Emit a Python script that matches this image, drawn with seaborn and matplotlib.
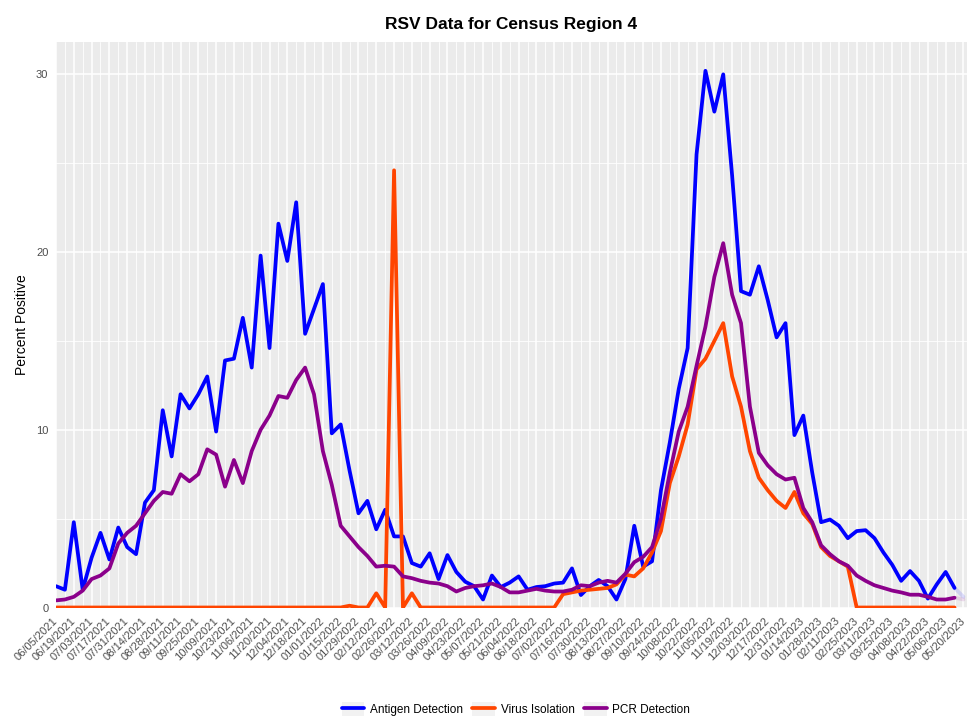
import numpy as np
import pandas as pd
import matplotlib
matplotlib.use("Agg")
import matplotlib.pyplot as plt
import matplotlib.dates as mdates
from matplotlib.lines import Line2D
from matplotlib.patches import Patch
from matplotlib.legend_handler import HandlerTuple
import seaborn as sns

# ---------------- data (weekly, 06/05/2021 .. 05/20/2023) ----------------
weeks = pd.date_range("2021-06-05", periods=103, freq="7D")

antigen = [1.2, 1.0, 4.8, 1.0, 2.8, 4.2, 2.7, 4.5, 3.4, 3.0,
           5.9, 6.6, 11.1, 8.5, 12.0, 11.2, 12.0, 13.0, 9.9, 13.9,
           14.0, 16.3, 13.5, 19.8, 14.6, 21.6, 19.5, 22.8, 15.4, 16.8,
           18.2, 9.8, 10.3, 7.7, 5.3, 6.0, 4.4, 5.5, 4.0, 4.0,
           2.5, 2.3, 3.05, 1.6, 2.95, 2.0, 1.45, 1.2, 0.45, 1.8,
           1.15, 1.4, 1.75, 1.0, 1.15, 1.2, 1.35, 1.4, 2.2, 0.7,
           1.2, 1.55, 1.2, 0.45, 1.6, 4.6, 2.3, 2.6, 6.6, 9.3,
           12.3, 14.6, 25.5, 30.2, 27.9, 30.0, 24.3, 17.8, 17.6, 19.2,
           17.3, 15.2, 16.0, 9.7, 10.8, 7.6, 4.8, 4.95, 4.6, 3.9,
           4.3, 4.35, 3.9, 3.1, 2.4, 1.5, 2.05, 1.5, 0.5, 1.3,
           2.0, 1.1, 0.6]

virus = [0, 0, 0, 0, 0, 0, 0, 0, 0, 0,
         0, 0, 0, 0, 0, 0, 0, 0, 0, 0,
         0, 0, 0, 0, 0, 0, 0, 0, 0, 0,
         0, 0, 0, 0.1, 0, 0, 0.8, 0, 24.6, 0,
         0.8, 0, 0, 0, 0, 0, 0, 0, 0, 0,
         0, 0, 0, 0, 0, 0, 0, 0.75, 0.85, 0.95,
         1.0, 1.05, 1.1, 1.3, 1.85, 1.75, 2.2, 3.1, 4.3, 7.0,
         8.5, 10.3, 13.4, 14.0, 15.0, 16.0, 13.0, 11.3, 8.8, 7.3,
         6.6, 6.0, 5.6, 6.5, 5.3, 4.7, 3.4, 2.9, 2.6, 2.3,
         0, 0, 0, 0, 0, 0, 0, 0, 0, 0,
         0, 0, np.nan]

pcr = [0.4, 0.45, 0.6, 0.95, 1.6, 1.8, 2.2, 3.6, 4.2, 4.6,
       5.3, 6.0, 6.5, 6.4, 7.5, 7.1, 7.5, 8.9, 8.6, 6.8,
       8.3, 7.0, 8.8, 10.0, 10.8, 11.9, 11.8, 12.8, 13.5, 12.0,
       8.8, 6.9, 4.6, 4.0, 3.4, 2.9, 2.3, 2.35, 2.3, 1.75,
       1.65, 1.5, 1.4, 1.35, 1.2, 0.9, 1.1, 1.2, 1.25, 1.35,
       1.15, 0.85, 0.85, 0.95, 1.05, 0.95, 0.9, 0.9, 1.0, 1.25,
       1.2, 1.4, 1.5, 1.4, 1.9, 2.55, 2.85, 3.4, 5.0, 7.6,
       9.9, 11.3, 13.6, 15.8, 18.6, 20.5, 17.6, 16.0, 11.3, 8.7,
       8.0, 7.5, 7.2, 7.3, 5.6, 4.8, 3.5, 3.0, 2.6, 2.35,
       1.8, 1.5, 1.25, 1.1, 0.95, 0.85, 0.72, 0.72, 0.6, 0.45,
       0.45, 0.55, 0.45]

series_names = ["Antigen Detection", "Virus Isolation", "PCR Detection"]
series_colors = ["#0000FF", "#FF4500", "#8B008B"]
title = "RSV Data for Census Region 4"
y_label = "Percent Positive"
y_ticks = [0, 10, 20, 30]

# ---------------- build long table ----------------
wide = pd.DataFrame({"week": weeks,
                     series_names[0]: antigen,
                     series_names[1]: virus,
                     series_names[2]: pcr})
long = wide.melt(id_vars="week", var_name="series", value_name="value")
long["idx"] = long.groupby("series").cumcount()
main = long[long["idx"] <= 101].dropna()
tail = long[long["idx"] >= 101].dropna()
tail = tail[tail.groupby("series")["idx"].transform("count") > 1]

# ---------------- figure ----------------
sns.set_theme(style="darkgrid")
FONT = ["Liberation Sans", "DejaVu Sans"]
plt.rcParams["font.family"] = FONT
plt.rcParams["text.color"] = "black"

W, H = 967, 716
fig = plt.figure(figsize=(W / 100, H / 100), dpi=100)
fig.patch.set_facecolor("white")
left, right, top, bottom = 56, 967, 42, 607.5
ax = fig.add_axes([left / W, (H - bottom) / H, (right - left) / W, (bottom - top) / H])
ax.set_facecolor("#EBEBEB")

pal = dict(zip(series_names, series_colors))
LW = 2.7
sns.lineplot(data=main, x="week", y="value", hue="series", hue_order=series_names,
             palette=pal, estimator=None, linewidth=LW, ax=ax, legend=False,
             zorder=3)
sns.lineplot(data=tail, x="week", y="value", hue="series", hue_order=series_names,
             palette=pal, estimator=None, linewidth=LW, ax=ax, legend=False,
             alpha=0.12, zorder=3)

# axes limits
x0 = mdates.date2num(weeks[0])
ax.set_xlim(x0, x0 + 102.4 * 7)
ax.set_ylim(0, 31.82)

# ticks
major_dates = weeks[::2]
ax.set_xticks(mdates.date2num(major_dates))
ax.set_xticklabels([d.strftime("%m/%d/%Y") for d in major_dates],
                   rotation=45, ha="right", va="center", rotation_mode="anchor",
                   fontsize=8, color="#4D4D4D")
ax.set_xticks(mdates.date2num(weeks[1::2]), minor=True)
ax.set_yticks(y_ticks)
ax.set_yticklabels([str(t) for t in y_ticks], fontsize=8, color="#4D4D4D")
ax.set_yticks([5, 15, 25], minor=True)
ax.tick_params(axis="both", which="major", length=3.5, width=0.8, color="#333333")
ax.tick_params(axis="y", which="major", pad=2)
ax.tick_params(axis="x", which="major", pad=5)
ax.tick_params(axis="both", which="minor", length=0)

ax.grid(which="major", color="white", linewidth=1.1)
ax.grid(which="minor", color="white", linewidth=0.6)
ax.set_axisbelow(True)
for s in ax.spines.values():
    s.set_visible(False)
ax.set_xlabel("")
ax.set_ylabel("")

# texts
fig.text(511.5 / W, 1 - 24 / H, title, ha="center", va="center", color="black",
         fontsize=12.5, fontweight="bold", family=FONT)
fig.text(22 / W, 1 - 325 / H, y_label, ha="center", va="center", rotation=90,
         color="black", fontsize=10, family=FONT)

# legend with grey key backgrounds (patch and line overlaid)
handles = [(Patch(facecolor="#F2F2F2", edgecolor="none"),
            Line2D([0], [0], color=c, linewidth=LW)) for c in series_colors]
leg = fig.legend(handles, series_names, loc="center", ncol=3,
                 handler_map={tuple: HandlerTuple(ndivide=1, pad=0)},
                 bbox_to_anchor=(516 / W, 1 - 709.5 / H), frameon=False,
                 fontsize=8.5, handlelength=1.9, handleheight=1.6,
                 handletextpad=0.5, columnspacing=0.8, borderaxespad=0)
for t in leg.get_texts():
    t.set_color("black")

fig.savefig("out.png", dpi=100)
